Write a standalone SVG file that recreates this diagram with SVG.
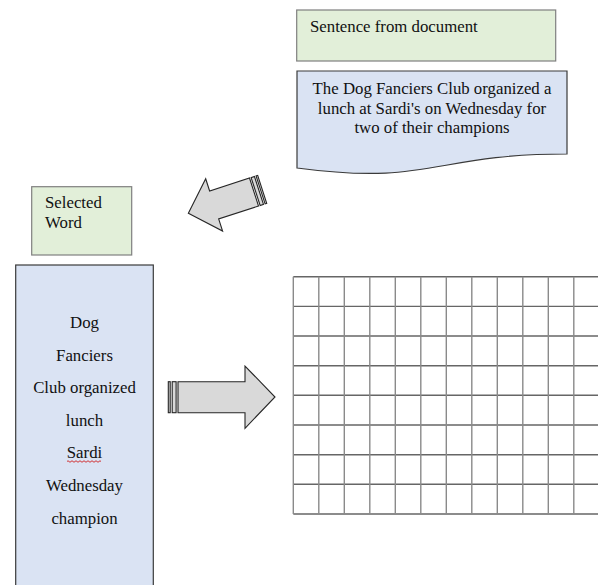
<svg xmlns="http://www.w3.org/2000/svg" width="598" height="585" viewBox="0 0 598 585" font-family="'Liberation Serif', 'DejaVu Serif', serif">
<defs>
<style>
text{font-family:'Liberation Serif','DejaVu Serif',serif;font-size:16.8px;fill:#111}
.green{fill:#e2efd9;stroke:#7f7f7f;stroke-width:1.2}
.blue{fill:#dae3f3;stroke:#3a3a3a;stroke-width:1.2}
.arrow{fill:#d9d9d9;stroke:#262626;stroke-width:1.1;stroke-linejoin:miter}
.grid line{stroke:#8a8a8a;stroke-width:1.4}
.grid .h{stroke:#666}
.mid{text-anchor:middle}
</style>
<g id="stripedArrow">
<rect x="0" y="-14.7" width="1.7" height="29.4" class="arrow"/>
<rect x="3.4" y="-14.7" width="3.5" height="29.4" class="arrow"/>
<path class="arrow" d="M8.6,-14.7 L50.5,-14.7 L50.5,-27.5 L77.6,0 L50.5,27.5 L50.5,14.7 L8.6,14.7 Z"/>
</g>
</defs>
<rect width="598" height="585" fill="#fff"/>

<g id="sentence-label">
<rect class="green" x="296.7" y="10" width="259" height="51"/>
<text x="310" y="32">Sentence from document</text>
</g>

<g id="sentence">
<path class="blue" d="M297,71 L567,71 L567,154 C432,154 432,186 297,168 Z"/>
<text class="mid" x="432" y="94.3">The Dog Fanciers Club organized a</text>
<text class="mid" x="432" y="113.8">lunch at Sardi's on Wednesday for</text>
<text class="mid" x="432" y="133.3">two of their champions</text>
</g>

<g id="selected-label">
<rect class="green" x="31.7" y="186.7" width="100" height="68.3"/>
<text x="45" y="208.3">Selected</text>
<text x="45" y="228.3">Word</text>
</g>

<g id="selected-words">
<rect class="blue" x="15.7" y="265" width="137.6" height="330"/>
<text class="mid" x="84.5" y="328.3">Dog</text>
<text class="mid" x="84.5" y="360.8">Fanciers</text>
<text class="mid" x="84.5" y="393.3">Club organized</text>
<text class="mid" x="84.5" y="425.8">lunch</text>
<text class="mid" x="84.5" y="458.3">Sardi</text>
<path d="M67,461.5 q1,-1.5 2,0 t2,0 t2,0 t2,0 t2,0 t2,0 t2,0 t2,0 t2,0 t2,0 t2,0 t2,0 t2,0 t2,0 t2,0 t2,0 t2,0" fill="none" stroke="#d02020" stroke-width="0.9"/>
<text class="mid" x="84.5" y="491.3">Wednesday</text>
<text class="mid" x="84.5" y="524.3">champion</text>
</g>

<g id="matrix" class="grid">
<line class="h" x1="293.3" y1="276.7" x2="600" y2="276.7"/>
<line class="h" x1="293.3" y1="306.4" x2="600" y2="306.4"/>
<line class="h" x1="293.3" y1="336" x2="600" y2="336"/>
<line class="h" x1="293.3" y1="365.7" x2="600" y2="365.7"/>
<line class="h" x1="293.3" y1="395.3" x2="600" y2="395.3"/>
<line class="h" x1="293.3" y1="425" x2="600" y2="425"/>
<line class="h" x1="293.3" y1="454.7" x2="600" y2="454.7"/>
<line class="h" x1="293.3" y1="484.3" x2="600" y2="484.3"/>
<line class="h" x1="293.3" y1="514" x2="600" y2="514"/>
<line x1="293.3" y1="276.7" x2="293.3" y2="514"/>
<line x1="318.8" y1="276.7" x2="318.8" y2="514"/>
<line x1="344.3" y1="276.7" x2="344.3" y2="514"/>
<line x1="369.8" y1="276.7" x2="369.8" y2="514"/>
<line x1="395.3" y1="276.7" x2="395.3" y2="514"/>
<line x1="420.8" y1="276.7" x2="420.8" y2="514"/>
<line x1="446.3" y1="276.7" x2="446.3" y2="514"/>
<line x1="471.8" y1="276.7" x2="471.8" y2="514"/>
<line x1="497.3" y1="276.7" x2="497.3" y2="514"/>
<line x1="522.8" y1="276.7" x2="522.8" y2="514"/>
<line x1="548.3" y1="276.7" x2="548.3" y2="514"/>
<line x1="573.8" y1="276.7" x2="573.8" y2="514"/>
<line x1="599.3" y1="276.7" x2="599.3" y2="514"/>
</g>

<g id="connectors">
<use href="#stripedArrow" transform="translate(262.2,189.4) rotate(162.1)"/>
<g id="arrow-right">
<rect class="arrow" x="168.3" y="381.7" width="1.9" height="31"/>
<rect class="arrow" x="172.2" y="381.7" width="3.9" height="31"/>
<path class="arrow" d="M178,381.7 L245,381.7 L245,366 L275,397 L245,428.3 L245,412.7 L178,412.7 Z"/>
</g>
</g>
</svg>
